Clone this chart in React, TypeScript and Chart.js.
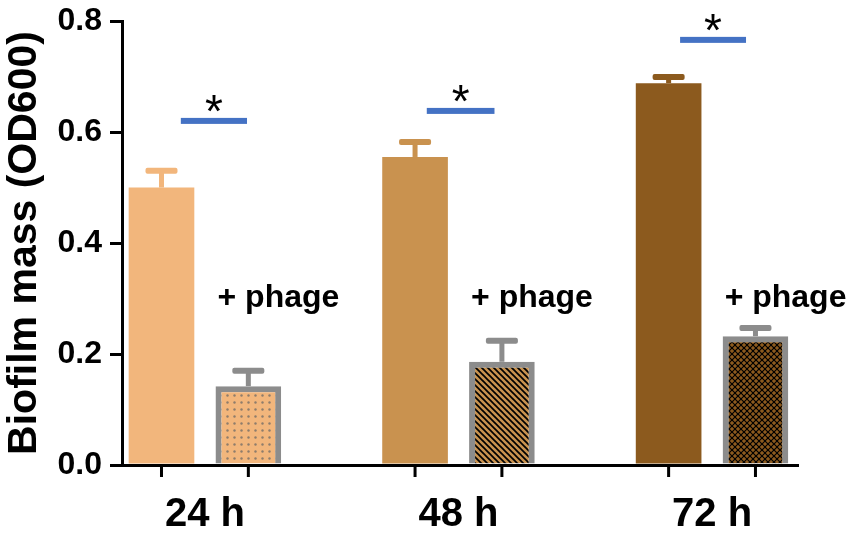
import React, { useEffect, useRef } from 'react';
import { Chart, registerables } from 'chart.js';

Chart.register(...registerables);

// ---- data ----
const categories = ['24 h', '48 h', '72 h'];
const controlValues = [0.5, 0.555, 0.688];
const controlErrors = [0.03, 0.027, 0.011];
const phageValues = [0.142, 0.186, 0.232];
const phageErrors = [0.028, 0.038, 0.015];
const significanceY = [0.62, 0.638, 0.766];
const significanceStart = [-0.095, -0.125, -0.126];
const significanceEnd = [0.166, 0.142, 0.134];
const significanceMarks = ['*', '*', '*'];
const phageLabel = '+ phage';
const phageLabelY = 0.3;
const yTicks = [0, 0.2, 0.4, 0.6, 0.8];
const yTitle = 'Biofilm mass (OD600)';

// ---- styles ----
const FONT = "'Liberation Sans', Arial, sans-serif";
const barColors = ['#F2B67C', '#C9924F', '#8C5A1E'];
const phageBorder = '#8C8C8C';
const sigColor = '#4472C4';

function makePattern(kind: string, bg: string): CanvasPattern | string {
  const s = kind === 'dots' ? 7 : 6;
  const c = document.createElement('canvas');
  c.width = s;
  c.height = s;
  const g = c.getContext('2d');
  if (!g) return bg;
  g.fillStyle = bg;
  g.fillRect(0, 0, s, s);
  const line = (x0: number, y0: number, x1: number, y1: number) => {
    g.beginPath();
    g.moveTo(x0, y0);
    g.lineTo(x1, y1);
    g.stroke();
  };
  if (kind === 'dots') {
    g.fillStyle = 'rgba(125,115,105,0.85)';
    g.beginPath();
    g.arc(3.5, 3.5, 1.2, 0, Math.PI * 2);
    g.fill();
  } else if (kind === 'diag') {
    g.strokeStyle = '#000';
    g.lineWidth = 1.7;
    line(0, 0, s, s);
    line(-1, s - 1, 1, s + 1);
    line(s - 1, -1, s + 1, 1);
  } else {
    g.strokeStyle = '#000';
    g.lineWidth = 1.2;
    line(0, 0, s, s);
    line(-1, s - 1, 1, s + 1);
    line(s - 1, -1, s + 1, 1);
    line(0, s, s, 0);
    line(-1, 1, 1, -1);
    line(s - 1, s + 1, s + 1, s - 1);
  }
  const p = g.createPattern(c, 'repeat');
  return p || bg;
}

export default function App() {
  const ref = useRef<HTMLCanvasElement>(null);

  useEffect(() => {
    const canvas = ref.current;
    if (!canvas) return;
    const patterns = [
      makePattern('dots', barColors[0]),
      makePattern('diag', barColors[1]),
      makePattern('cross', barColors[2]),
    ];

    const decor = {
      id: 'decor',
      afterDatasetsDraw(chart: any) {
        const ctx = chart.ctx as CanvasRenderingContext2D;
        const xs = chart.scales.x;
        const ys = chart.scales.y;
        const vals = [controlValues, phageValues];
        const errs = [controlErrors, phageErrors];
        ctx.save();
        chart.data.datasets.forEach((_ds: any, di: number) => {
          const meta = chart.getDatasetMeta(di);
          meta.data.forEach((bar: any, i: number) => {
            const { x, y } = bar.getProps(['x', 'y'], true);
            const topY = ys.getPixelForValue(vals[di][i] + errs[di][i]);
            const color = di === 0 ? barColors[i] : phageBorder;
            ctx.fillStyle = color;
            ctx.fillRect(x - 2.5, topY, 5, y - topY);
            ctx.beginPath();
            if ((ctx as any).roundRect) {
              (ctx as any).roundRect(x - 16, topY - 3, 32, 6, 2);
            } else {
              ctx.rect(x - 16, topY - 3, 32, 6);
            }
            ctx.fill();
            // x tick mark under the bar
            ctx.fillStyle = '#000';
            ctx.fillRect(x - 1.5, ys.bottom, 3, 12);
            if (di === 1) {
              const w = bar.getProps(['width'], true).width;
              ctx.fillStyle = '#000';
              ctx.font = `bold 32px ${FONT}`;
              ctx.textAlign = 'left';
              ctx.textBaseline = 'middle';
              ctx.fillText(phageLabel, x - w / 2 + 2, ys.getPixelForValue(phageLabelY));
            }
          });
        });
        // significance bars
        categories.forEach((_c, i) => {
          const x0 = xs.getPixelForValue(i + significanceStart[i]);
          const x1 = xs.getPixelForValue(i + significanceEnd[i]);
          const yy = ys.getPixelForValue(significanceY[i]);
          ctx.fillStyle = sigColor;
          ctx.fillRect(x0, yy - 3, x1 - x0, 6);
          ctx.fillStyle = '#000';
          ctx.font = `normal 46px ${FONT}`;
          ctx.textAlign = 'center';
          ctx.textBaseline = 'alphabetic';
          ctx.fillText(significanceMarks[i], (x0 + x1) / 2, yy - 20 + 26);
        });
        ctx.restore();
      },
    };

    const chart = new Chart(canvas, {
      type: 'bar',
      data: {
        datasets: [
          {
            label: 'control',
            data: controlValues.map((v, i) => ({ x: i, y: v })),
            backgroundColor: barColors,
            borderWidth: 0,
            categoryPercentage: 0.685,
            barPercentage: 0.756,
          },
          {
            label: 'phage',
            data: phageValues.map((v, i) => ({ x: i, y: v })),
            backgroundColor: patterns as any,
            borderColor: phageBorder,
            borderWidth: 6,
            borderSkipped: 'bottom',
            categoryPercentage: 0.685,
            barPercentage: 0.756,
          },
        ],
      } as any,
      options: {
        animation: false,
        responsive: true,
        maintainAspectRatio: false,
        layout: { padding: { top: 21, right: 53, left: 0, bottom: 0 } },
        plugins: { legend: { display: false }, tooltip: { enabled: false } },
        scales: {
          x: {
            type: 'linear',
            min: -0.327,
            max: 2.339,
            offset: false,
            afterBuildTicks: (s: any) => {
              s.ticks = categories.map((_c, i) => ({ value: i }));
            },
            afterFit: (s: any) => {
              s.height = 70;
              s.paddingLeft = 0;
              s.paddingRight = 0;
            },
            grid: { display: false, drawTicks: false },
            border: { display: true, color: '#000', width: 3 },
            ticks: {
              callback: (v: any) => categories[v] ?? '',
              color: '#000',
              font: { family: FONT, size: 40, weight: 'bold' },
              padding: 26,
              autoSkip: false,
              maxRotation: 0,
            },
          },
          y: {
            min: 0,
            max: 0.8,
            afterBuildTicks: (s: any) => {
              s.ticks = yTicks.map((v) => ({ value: v }));
            },
            afterFit: (s: any) => {
              s.width = 122;
              s.paddingTop = 0;
              s.paddingBottom = 0;
            },
            grid: { drawOnChartArea: false, drawTicks: true, tickLength: 12, lineWidth: 3, color: '#000' },
            border: { display: true, color: '#000', width: 3 },
            ticks: {
              callback: (v: any) => Number(v).toFixed(1),
              color: '#000',
              font: { family: FONT, size: 32, weight: 'bold' },
              padding: 8,
            },
            title: {
              display: true,
              text: yTitle,
              color: '#000',
              font: { family: FONT, size: 41, weight: 'bold' },
              padding: { top: 0, bottom: 0 },
            },
          },
        },
      } as any,
      plugins: [decor],
    });
    return () => chart.destroy();
  }, []);

  return (
    <div style={{ position: 'fixed', left: 0, top: 0, width: 851, height: 535, background: '#fff' }}>
      <canvas ref={ref} />
    </div>
  );
}
